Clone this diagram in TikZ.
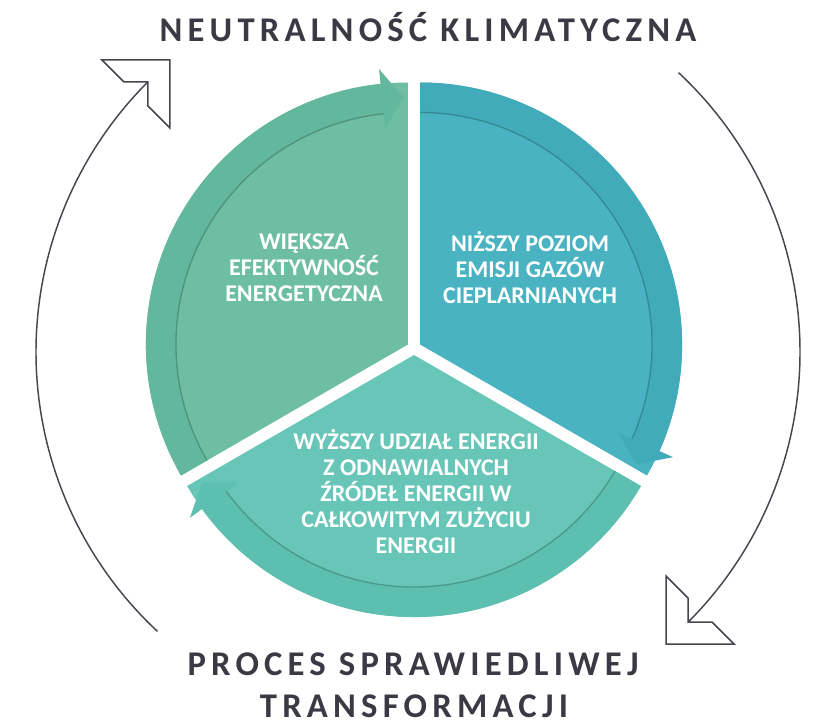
\documentclass[tikz,border=0pt]{standalone}
\usepackage{fontspec}
\setmainfont{Carlito}
\newfontfamily\headfont[LetterSpace=15]{Carlito}
\definecolor{leafbody}{RGB}{110,190,164}
\definecolor{leafband}{RGB}{99,183,156}
\definecolor{seabody}{RGB}{74,179,193}
\definecolor{seaband}{RGB}{66,171,186}
\definecolor{mintbody}{RGB}{104,198,184}
\definecolor{mintband}{RGB}{93,191,176}
\definecolor{titlegray}{RGB}{58,58,68}
\definecolor{loopgray}{RGB}{70,70,78}
\begin{document}
\begin{tikzpicture}[x=0.75pt,y=0.75pt,
	sectortext/.style={text=white, align=center, font=\bfseries\fontsize{18}{19.5}\selectfont},
	headline/.style={text=titlegray, font=\headfont\bfseries\fontsize{26}{30}\selectfont},
	loopline/.style={draw=loopgray, line width=1.1pt},
	openhead/.pic={\draw[loopline, fill=white, line join=miter] (-46,22) -- (22,22) -- (22,-46) -- (0,-24) -- (0,0) -- (-24,0) -- cycle;}]
	\useasboundingbox (0,0) rectangle (813,-727);
	\def\R{262}
	\coordinate (C) at (414,-348);
	\coordinate (O) at (418,-352);
	% three sectors with their arrows
	\foreach \a/\bodycol/\bandcol in {90/leafbody/leafband,-30/seabody/seaband,210/mintbody/mintband}{
		\begin{scope}[shift={({414+7*cos(\a+60)},{-348+7*sin(\a+60)})}]
			\fill[\bodycol] (0,0) -- (\a:\R) arc[start angle=\a, end angle=\a+120, radius=\R] -- cycle;
			\fill[\bandcol] ({\a+120}:\R) arc[start angle=\a+120, end angle=\a+6, radius=\R]
				-- ({\a+6}:{\R+15}) -- ({\a+1}:{\R-15}) -- ({\a+6}:{\R-45})
				-- ({\a+6}:{\R-30}) arc[start angle=\a+6, end angle=\a+120, radius=\R-30] -- cycle;
			\draw[\bandcol!80!black, line width=1pt] ({\a+120}:{\R-30}) arc[start angle=\a+120, end angle=\a+6, radius=\R-30];
		\end{scope}}
	\node[sectortext] (efficiency) at (304,-268) {WIĘKSZA\\EFEKTYWNOŚĆ\\ENERGETYCZNA};
	\node[sectortext] (emissions) at (530,-268) {NIŻSZY POZIOM\\EMISJI GAZÓW\\CIEPLARNIANYCH};
	\node[sectortext] (renewables) at (416,-492) {WYŻSZY UDZIAŁ ENERGII\\Z ODNAWIALNYCH\\ŹRÓDEŁ ENERGII W\\CAŁKOWITYM ZUŻYCIU\\ENERGII};
	% outer loop
	\draw[loopline] (O) ++(227:382) arc[start angle=227, end angle=135, radius=382] coordinate (lefthead);
	\draw[loopline] (O) ++(47:382) arc[start angle=47, end angle=-45, radius=382] coordinate (righthead);
	\pic at (lefthead) {openhead};
	\pic[rotate=180] at (righthead) {openhead};
	\node[headline] (goal) at (428,-27) {NEUTRALNOŚĆ KLIMATYCZNA};
	\node[headline] (path) at (413,-664) {PROCES SPRAWIEDLIWEJ};
	\node[headline] (pathend) at (414,-706) {TRANSFORMACJI};
\end{tikzpicture}
\end{document}
